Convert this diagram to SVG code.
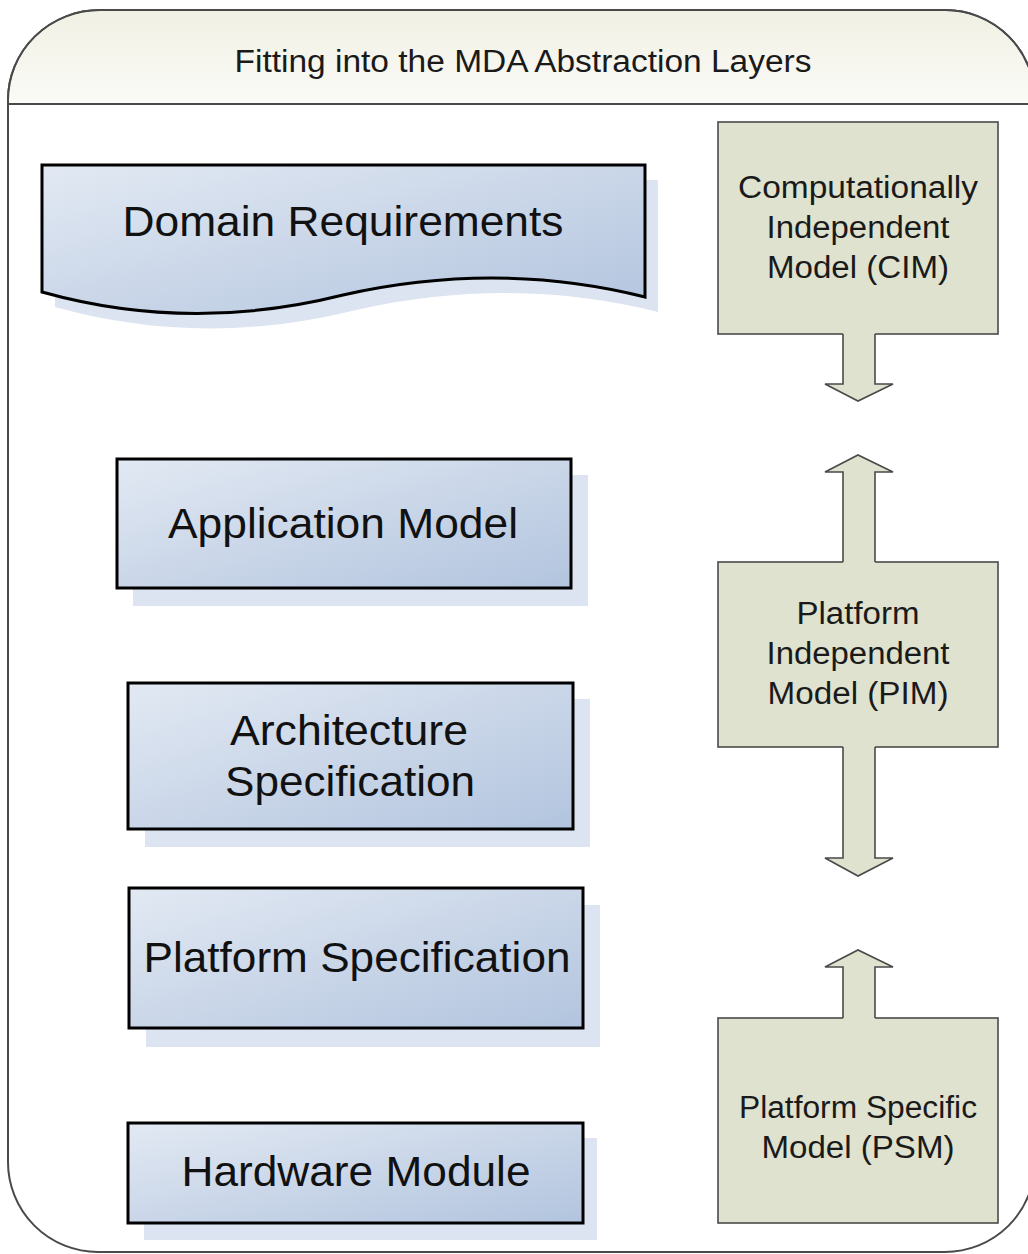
<svg xmlns="http://www.w3.org/2000/svg" width="1028" height="1254" viewBox="0 0 1028 1254">
<style>
.frame{fill:#ffffff;stroke:#4a4a4a;stroke-width:2}
.hdr{fill:url(#hdrGrad);stroke:none}
.divider{stroke:#4a4a4a;stroke-width:2;fill:none}
.title{font-family:"Liberation Sans",Arial,sans-serif;font-size:31px;fill:#1a1a1a;text-anchor:middle}
.blue{fill:url(#blueGrad);stroke:#000000;stroke-width:3}
.shadow{fill:#dbe4f0;stroke:none}
.btxt{font-family:"Liberation Sans",Arial,sans-serif;font-size:42px;fill:#111111;text-anchor:middle}
.green{fill:#dfe2ce;stroke:#4a4a4a;stroke-width:1.6}
.gtxt{font-family:"Liberation Sans",Arial,sans-serif;font-size:31px;fill:#1a1a1a;text-anchor:middle}
.afill{fill:#dfe2ce;stroke:none}
.aline{fill:none;stroke:#4a4a4a;stroke-width:1.6;stroke-linejoin:miter}
</style>
<defs>
<linearGradient id="hdrGrad" x1="0" y1="0" x2="0" y2="1">
<stop offset="0" stop-color="#f0f0e4"/>
<stop offset="1" stop-color="#fbfbf7"/>
</linearGradient>
<linearGradient id="blueGrad" x1="0" y1="0" x2="1" y2="1">
<stop offset="0" stop-color="#e2e9f3"/>
<stop offset="1" stop-color="#b2c4de"/>
</linearGradient>
</defs>

<g id="frame">
<path class="frame" d="M8,100 A92,90 0 0 1 100,10 L945,10 A90,90 0 0 1 1035,100 L1035,1162 A90,90 0 0 1 945,1252 L98,1252 A90,90 0 0 1 8,1162 Z"/>
<path class="hdr" d="M9,104 L9,100 A91,89 0 0 1 100,11 L945,11 A89,89 0 0 1 1034,100 L1034,104 Z"/>
<path class="frame" style="fill:none" d="M8,104 L8,100 A92,90 0 0 1 100,10 L945,10 A90,90 0 0 1 1035,100"/>
<line class="divider" x1="8" y1="104" x2="1035" y2="104"/>
<text class="title" x="523" y="72" textLength="577" lengthAdjust="spacingAndGlyphs">Fitting into the MDA Abstraction Layers</text>
</g>

<g id="domain-requirements">
<path class="shadow" d="M55,180 H658 V312 C558,287 458,287 356,310 C256,335 155,335 55,307 Z"/>
<path class="blue" d="M42,165 H645 V297 C545,272 445,272 343,295 C243,320 142,320 42,292 Z"/>
<text class="btxt" x="343" y="236" textLength="441" lengthAdjust="spacingAndGlyphs">Domain Requirements</text>
</g>

<g id="application-model">
<rect class="shadow" x="133" y="475" width="455" height="131"/>
<rect class="blue" x="117" y="459" width="454" height="129"/>
<text class="btxt" x="343" y="538" textLength="350" lengthAdjust="spacingAndGlyphs">Application Model</text>
</g>

<g id="architecture-specification">
<rect class="shadow" x="145" y="699" width="445" height="148"/>
<rect class="blue" x="128" y="683" width="445" height="146"/>
<text class="btxt" x="349" y="745" textLength="238" lengthAdjust="spacingAndGlyphs">Architecture</text>
<text class="btxt" x="350" y="796" textLength="250" lengthAdjust="spacingAndGlyphs">Specification</text>
</g>

<g id="platform-specification">
<rect class="shadow" x="146" y="905" width="454" height="142"/>
<rect class="blue" x="129" y="888" width="454" height="140"/>
<text class="btxt" x="357" y="972" textLength="427" lengthAdjust="spacingAndGlyphs">Platform Specification</text>
</g>

<g id="hardware-module">
<rect class="shadow" x="144" y="1138" width="453" height="102"/>
<rect class="blue" x="128" y="1123" width="455" height="100"/>
<text class="btxt" x="356" y="1186" textLength="349" lengthAdjust="spacingAndGlyphs">Hardware Module</text>
</g>

<g id="cim">
<rect class="green" x="718" y="122" width="280" height="212"/>
<text class="gtxt" x="858" y="198" textLength="240" lengthAdjust="spacingAndGlyphs">Computationally</text>
<text class="gtxt" x="858" y="238" textLength="183" lengthAdjust="spacingAndGlyphs">Independent</text>
<text class="gtxt" x="858" y="278" textLength="182" lengthAdjust="spacingAndGlyphs">Model (CIM)</text>
</g>

<g id="pim">
<rect class="green" x="718" y="562" width="280" height="185"/>
<text class="gtxt" x="858" y="624" textLength="123" lengthAdjust="spacingAndGlyphs">Platform</text>
<text class="gtxt" x="858" y="664" textLength="183" lengthAdjust="spacingAndGlyphs">Independent</text>
<text class="gtxt" x="858" y="704" textLength="181" lengthAdjust="spacingAndGlyphs">Model (PIM)</text>
</g>

<g id="psm">
<rect class="green" x="718" y="1018" width="280" height="205"/>
<text class="gtxt" x="858" y="1118" textLength="238" lengthAdjust="spacingAndGlyphs">Platform Specific</text>
<text class="gtxt" x="858" y="1158" textLength="193" lengthAdjust="spacingAndGlyphs">Model (PSM)</text>
</g>

<g id="connectors">
<path class="afill" d="M843,332 V384 H825 L858,401 L893,384 H875 V332 Z"/>
<path class="aline" d="M843,334 V384 H825 L858,401 L893,384 H875 V334"/>
<path class="afill" d="M843,564 V472 H825 L858,455 L893,472 H875 V564 Z"/>
<path class="aline" d="M843,562 V472 H825 L858,455 L893,472 H875 V562"/>
<path class="afill" d="M843,745 V858 H825 L858,876 L893,858 H875 V745 Z"/>
<path class="aline" d="M843,747 V858 H825 L858,876 L893,858 H875 V747"/>
<path class="afill" d="M843,1020 V967 H825 L858,950 L893,967 H875 V1020 Z"/>
<path class="aline" d="M843,1018 V967 H825 L858,950 L893,967 H875 V1018"/>
</g>
</svg>
